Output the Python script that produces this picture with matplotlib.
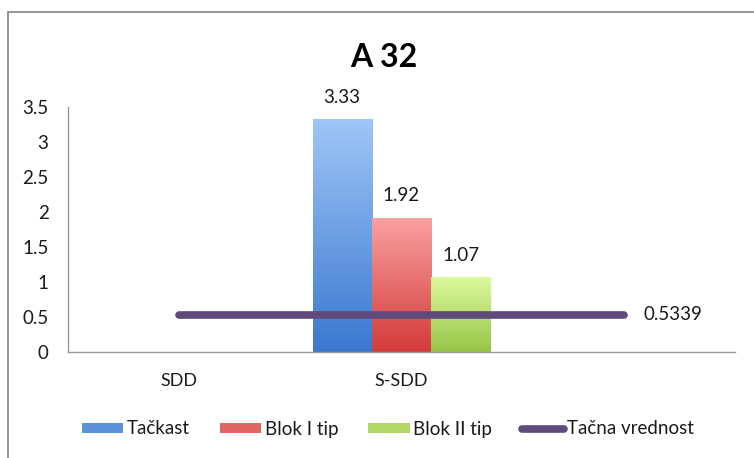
import matplotlib
matplotlib.use("Agg")
import matplotlib.pyplot as plt
import numpy as np
from matplotlib.patches import Rectangle
from matplotlib.lines import Line2D
from matplotlib.colors import LinearSegmentedColormap

plt.rcParams['font.family'] = ['Lato', 'DejaVu Sans']

# ---- data ----
categories = ["SDD", "S-SDD", ""]
series_names = ["Tačkast", "Blok I tip", "Blok II tip"]
tackast = [0, 3.33, 0]
blok_i = [0, 1.92, 0]
blok_ii = [0, 1.07, 0]
tacna_vrednost = [0.5339, 0.5339, 0.5339]
line_name = "Tačna vrednost"
title = "A 32"
yticks = [0, 0.5, 1, 1.5, 2, 2.5, 3, 3.5]

# gradient (top colour, bottom colour) for each bar series
grad = [("#a0c6f7", "#3a78cf"), ("#faa0a0", "#d33b3b"), ("#dcfa9c", "#98c447")]
legend_colors = ["#5b92dc", "#e06565", "#b2d86a"]
line_color = "#5f4a7c"
axis_color = "#9a9a9a"
text_color = "#1a1a1a"
fs = 13.5

W, H = 754, 458
fig = plt.figure(figsize=(W / 100, H / 100), dpi=100)

# outer chart frame (left and top edges visible)
fig.patches.append(Rectangle((8 / W, -0.1), 1.2, 1 - 12 / H + 0.1,
                             transform=fig.transFigure, fill=False,
                             edgecolor="#8c8c8c", linewidth=1.3))

ax = fig.add_axes([68 / W, 1 - 352 / H, (735 - 68) / W, (352 - 107) / H])

x = np.arange(len(categories))
gap = 0.75
bw = 1 / (3 + gap)
series = [tackast, blok_i, blok_ii]

for i, (vals, (ctop, cbot)) in enumerate(zip(series, grad)):
    offs = (i - 1) * bw
    bars = ax.bar(x + offs, vals, width=bw, color=cbot, linewidth=0, zorder=2)
    cmap = LinearSegmentedColormap.from_list("g%d" % i, [cbot, ctop])
    for b, v in zip(bars, vals):
        if v <= 0:
            continue
        x0, w_, h_ = b.get_x(), b.get_width(), b.get_height()
        img = ax.imshow(np.linspace(0, 1, 256).reshape(-1, 1), cmap=cmap,
                        origin="lower", aspect="auto",
                        extent=[x0, x0 + w_, 0, h_], zorder=2.1)
        img.set_clip_path(b)
        ax.text(x0 + w_ / 2, h_ + 0.31, f"{v:.2f}", ha="center", va="center",
                fontsize=fs, color=text_color)

ax.set_xlim(-0.5, 2.5)
ax.set_ylim(0, 3.5)

ax.plot(x, tacna_vrednost, color=line_color, linewidth=5.5,
        solid_capstyle="round", zorder=3)
ax.text(x[-1] + 0.09, tacna_vrednost[-1], f"{tacna_vrednost[-1]:.4f}",
        ha="left", va="center", fontsize=fs, color=text_color)

ax.set_xticks(x)
ax.set_xticklabels(categories, fontsize=fs - 0.5, color=text_color)
ax.set_yticks(yticks)
ax.set_yticklabels([f"{t:g}" for t in yticks], fontsize=fs, color=text_color)
ax.tick_params(axis="both", length=0)
ax.tick_params(axis="y", pad=14)
ax.tick_params(axis="x", pad=15)
for s in ("top", "right"):
    ax.spines[s].set_visible(False)
for s in ("left", "bottom"):
    ax.spines[s].set_color(axis_color)
    ax.spines[s].set_linewidth(1.0)

fig.text(384 / W, 1 - 57.5 / H, title, ha="center", va="center",
         fontsize=23, fontweight="bold", color="black")

handles = [Rectangle((0, 0), 1, 1, facecolor=c, edgecolor="none")
           for c in legend_colors]
handles.append(Line2D([0], [0], color=line_color, linewidth=5.5,
                      solid_capstyle="round"))
fig.legend(handles, series_names + [line_name], loc="center",
           bbox_to_anchor=(388 / W, 1 - 429 / H), ncol=4, frameon=False,
           fontsize=fs, handlelength=2.2, handleheight=0.5,
           handletextpad=0.2, columnspacing=1.6, labelcolor=text_color)

fig.savefig("out.png", dpi=100)
